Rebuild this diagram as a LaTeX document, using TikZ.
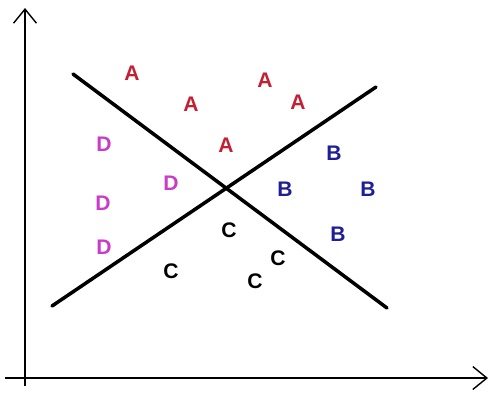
\documentclass[tikz,border=0pt]{standalone}
\usepackage{fontspec}
\setmainfont{Liberation Sans}
\usetikzlibrary{arrows.meta}

\definecolor{clsA}{RGB}{196,32,52}
\definecolor{clsB}{RGB}{30,30,150}
\definecolor{clsD}{RGB}{200,60,200}

\tikzset{
  pt/.style={font=\bfseries\fontsize{12}{14}\selectfont, inner sep=0pt},
  axis/.style={line width=1pt, -{Straight Barb[length=8pt,width=13pt,line width=0.8pt]}},
  sep/.style={line width=2pt, line cap=round}
}

\begin{document}
\begin{tikzpicture}[x=0.02cm, y=-0.02cm]
  \useasboundingbox (0,0) rectangle (496,393);

  % axes
  \coordinate (o)  at (25,378);
  \coordinate (yb) at (25,386);
  \coordinate (yt) at (25,8);
  \coordinate (xl) at (5,378);
  \coordinate (xr) at (488,378);
  \draw[axis] (yb) -- (yt);
  \draw[axis] (xl) -- (xr);

  % separating lines
  \coordinate (l1a) at (73,74);
  \coordinate (l1b) at (387,308);
  \coordinate (l2a) at (52,306);
  \coordinate (l2b) at (376,87);
  \draw[sep] (l1a) -- (l1b);
  \draw[sep] (l2a) -- (l2b);

  % class A
  \node[pt, text=clsA] (a1) at (132,73)  {A};
  \node[pt, text=clsA] (a2) at (191,104) {A};
  \node[pt, text=clsA] (a3) at (265,80)  {A};
  \node[pt, text=clsA] (a4) at (298,102) {A};
  \node[pt, text=clsA] (a5) at (226,145) {A};

  % class B
  \node[pt, text=clsB] (b1) at (334,153) {B};
  \node[pt, text=clsB] (b2) at (285,189) {B};
  \node[pt, text=clsB] (b3) at (368,189) {B};
  \node[pt, text=clsB] (b4) at (338,234) {B};

  % class C
  \node[pt] (c1) at (229,230) {C};
  \node[pt] (c2) at (171,271) {C};
  \node[pt] (c3) at (278,258) {C};
  \node[pt] (c4) at (255,281) {C};

  % class D
  \node[pt, text=clsD] (d1) at (104,144) {D};
  \node[pt, text=clsD] (d2) at (171,183) {D};
  \node[pt, text=clsD] (d3) at (103,203) {D};
  \node[pt, text=clsD] (d4) at (104,247) {D};
\end{tikzpicture}
\end{document}
